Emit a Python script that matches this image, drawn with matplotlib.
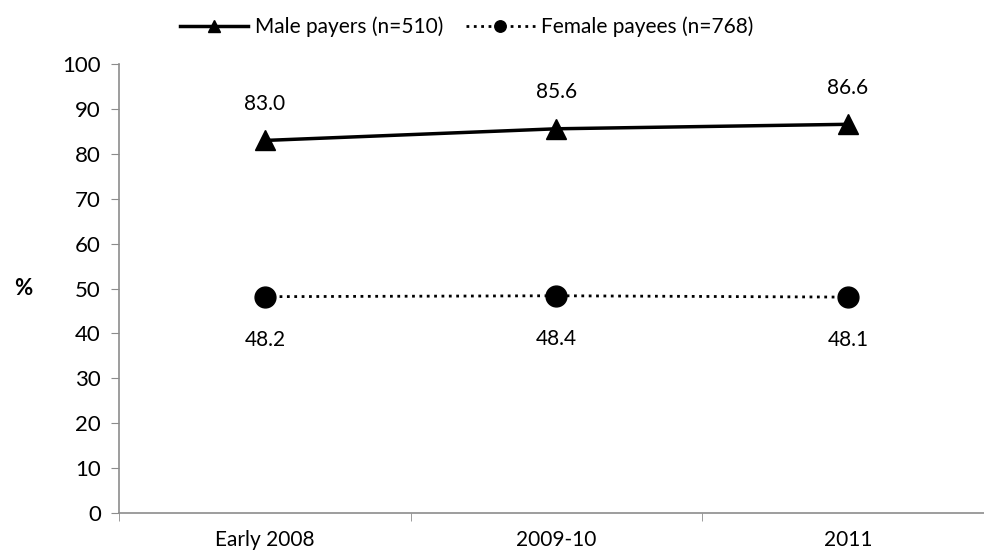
"""
Male payers vs female payees, % by survey period
"""

import numpy as np
import matplotlib.pyplot as plt

plt.rcParams['font.family'] = ['Lato', 'DejaVu Sans']

periods = ['Early 2008', '2009-10', '2011']
male_payers = [83.0, 85.6, 86.6]
female_payees = [48.2, 48.4, 48.1]
male_label = 'Male payers (n=510)'
female_label = 'Female payees (n=768)'

x = np.arange(len(periods))
grey = '#8c8c8c'

fig = plt.figure(figsize=(9.84, 5.53), dpi=100)
ax = fig.add_axes([0.121, 0.0723, 0.889, 0.8117])

ax.plot(x, male_payers, color='black', lw=2.5, marker='^', ms=15, label=male_label)
ax.plot(x, female_payees, color='black', lw=2, ls=':', marker='o', ms=15, label=female_label)

# data labels
for xi, v in zip(x, male_payers):
    ax.annotate(f'{v:.1f}', (xi, v), xytext=(0, 19), textcoords='offset points',
                ha='center', va='bottom', fontsize=15)
for xi, v in zip(x, female_payees):
    ax.annotate(f'{v:.1f}', (xi, v), xytext=(0, -24), textcoords='offset points',
                ha='center', va='top', fontsize=15)

ax.set_xlim(-0.5, 2.5)
ax.set_ylim(0, 100)
ax.set_yticks(np.arange(0, 101, 10))
ax.set_xticks(x)
ax.set_xticklabels(periods)
ax.set_xticks(np.arange(-0.5, 3, 1), minor=True)

ax.tick_params(axis='y', direction='out', length=6, color=grey, labelsize=16, pad=7)
ax.tick_params(axis='x', which='major', length=0, labelsize=15, pad=12)
ax.tick_params(axis='x', which='minor', direction='out', length=6, color=grey)

for side in ['top', 'right']:
    ax.spines[side].set_visible(False)
for side in ['left', 'bottom']:
    ax.spines[side].set_color(grey)
    ax.spines[side].set_linewidth(1.2)

ax.set_ylabel('%', rotation=0, fontsize=16, fontweight='bold', labelpad=28, va='center')

fig.legend(loc='center', bbox_to_anchor=(0.474, 0.952), ncol=2, frameon=False,
           fontsize=15, handlelength=3.3, handletextpad=0.3, columnspacing=1.1,
           markerscale=0.55)

fig.savefig('out.png', dpi=100)
